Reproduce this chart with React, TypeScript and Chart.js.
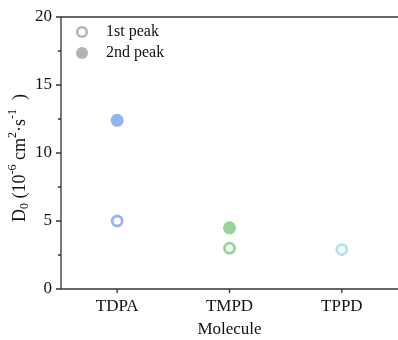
import React, { useEffect, useRef } from "react";
import { Chart, registerables } from "chart.js";
Chart.register(...registerables);

const categories = ["TDPA", "TMPD", "TPPD"];
const firstPeak: (number | null)[] = [5.0, 3.0, 2.9];
const secondPeak: (number | null)[] = [12.4, 4.5, null];
const pointColors = ["#93b4f2", "#95d498", "#b0e3ec"];
const legendLabels = ["1st peak", "2nd peak"];
const legendColor = "#b4b4b4";
const xTitle = "Molecule";
const FONT = "'Liberation Serif', 'Times New Roman', serif";

const overlay = {
  id: "overlay",
  afterDraw(chart: any) {
    const { ctx, chartArea } = chart;
    const { left, top, bottom } = chartArea;
    const ys = chart.scales.y;
    const xs = chart.scales.x;
    ctx.save();
    ctx.strokeStyle = "#333";
    ctx.lineWidth = 1.3;
    ctx.beginPath();
    ctx.moveTo(left, top);
    ctx.lineTo(left, bottom);
    ctx.moveTo(left, top);
    ctx.lineTo(chart.width, top);
    ctx.moveTo(left, bottom);
    ctx.lineTo(chart.width, bottom);
    for (let v = 0; v <= 20; v += 2.5) {
      const y = ys.getPixelForValue(v);
      const len = v % 5 === 0 ? 5 : 3;
      ctx.moveTo(left - len, y);
      ctx.lineTo(left, y);
    }
    categories.forEach((_, i) => {
      const x = xs.getPixelForValue(i);
      ctx.moveTo(x, bottom);
      ctx.lineTo(x, bottom + 4);
    });
    ctx.stroke();

    // y title with sub/superscripts
    const big = `18px ${FONT}`;
    const small = `12px ${FONT}`;
    const segs: [string, string, number][] = [
      ["D", big, 0],
      ["0", small, 5],
      [" (10", big, 0],
      ["-6", small, -7],
      [" cm", big, 0],
      ["2", small, -7],
      ["·s", big, 0],
      ["-1", small, -7],
      ["  )", big, 0],
    ];
    let total = 0;
    segs.forEach(([t, f]) => {
      ctx.font = f;
      total += ctx.measureText(t).width;
    });
    ctx.translate(20, 158);
    ctx.rotate(-Math.PI / 2);
    ctx.fillStyle = "#111";
    ctx.textBaseline = "middle";
    let cx = -total / 2;
    segs.forEach(([t, f, dy]) => {
      ctx.font = f;
      ctx.fillText(t, cx, dy);
      cx += ctx.measureText(t).width;
    });
    ctx.restore();

    // legend
    ctx.save();
    ctx.font = `16px ${FONT}`;
    ctx.textBaseline = "middle";
    ctx.strokeStyle = legendColor;
    ctx.lineWidth = 2.6;
    ctx.beginPath();
    ctx.arc(82, 32, 4.8, 0, Math.PI * 2);
    ctx.stroke();
    ctx.fillStyle = legendColor;
    ctx.beginPath();
    ctx.arc(82, 53, 6, 0, Math.PI * 2);
    ctx.fill();
    ctx.fillStyle = "#111";
    ctx.fillText(legendLabels[0], 106, 32);
    ctx.fillText(legendLabels[1], 106, 53);
    ctx.restore();
  },
};

export default function App() {
  const ref = useRef<HTMLCanvasElement>(null);
  useEffect(() => {
    if (!ref.current) return;
    const chart = new Chart(ref.current, {
      type: "line",
      data: {
        labels: categories,
        datasets: [
          {
            label: legendLabels[0],
            data: firstPeak,
            showLine: false,
            pointStyle: "circle",
            pointRadius: 5,
            pointBorderWidth: 2.8,
            pointBorderColor: pointColors,
            pointBackgroundColor: "#ffffff",
          },
          {
            label: legendLabels[1],
            data: secondPeak,
            showLine: false,
            pointStyle: "circle",
            pointRadius: 6.5,
            pointBorderWidth: 0,
            pointBorderColor: pointColors,
            pointBackgroundColor: pointColors,
          },
        ],
      },
      options: {
        animation: false,
        responsive: false,
        devicePixelRatio: 1,
        layout: { autoPadding: false, padding: { top: 17, right: 0, left: 0, bottom: 0 } },
        plugins: { legend: { display: false }, tooltip: { enabled: false } },
        scales: {
          x: {
            type: "category",
            offset: true,
            grid: { display: false, drawTicks: false, tickLength: 0 },
            border: { display: false },
            ticks: { color: "#111", font: { family: FONT, size: 17 }, padding: 7 },
            title: {
              display: true,
              text: xTitle,
              color: "#111",
              font: { family: FONT, size: 17 },
              padding: { top: 5, bottom: 0 },
            },
            afterFit: (s: any) => {
              s.height = 51;
              s.paddingLeft = 0;
              s.paddingRight = 0;
            },
          },
          y: {
            min: 0,
            max: 20,
            grid: { display: false, drawTicks: false, tickLength: 0 },
            border: { display: false },
            ticks: {
              stepSize: 5,
              color: "#111",
              font: { family: FONT, size: 17 },
              padding: 9,
            },
            afterFit: (s: any) => {
              s.width = 61;
              s.paddingTop = 0;
              s.paddingBottom = 0;
            },
          },
        },
      },
      plugins: [overlay],
    });
    return () => chart.destroy();
  }, []);
  return (
    <div style={{ position: "fixed", left: 0, top: 0, width: 398, height: 340, background: "#fff" }}>
      <canvas ref={ref} width={398} height={340} style={{ width: 398, height: 340 }} />
    </div>
  );
}
